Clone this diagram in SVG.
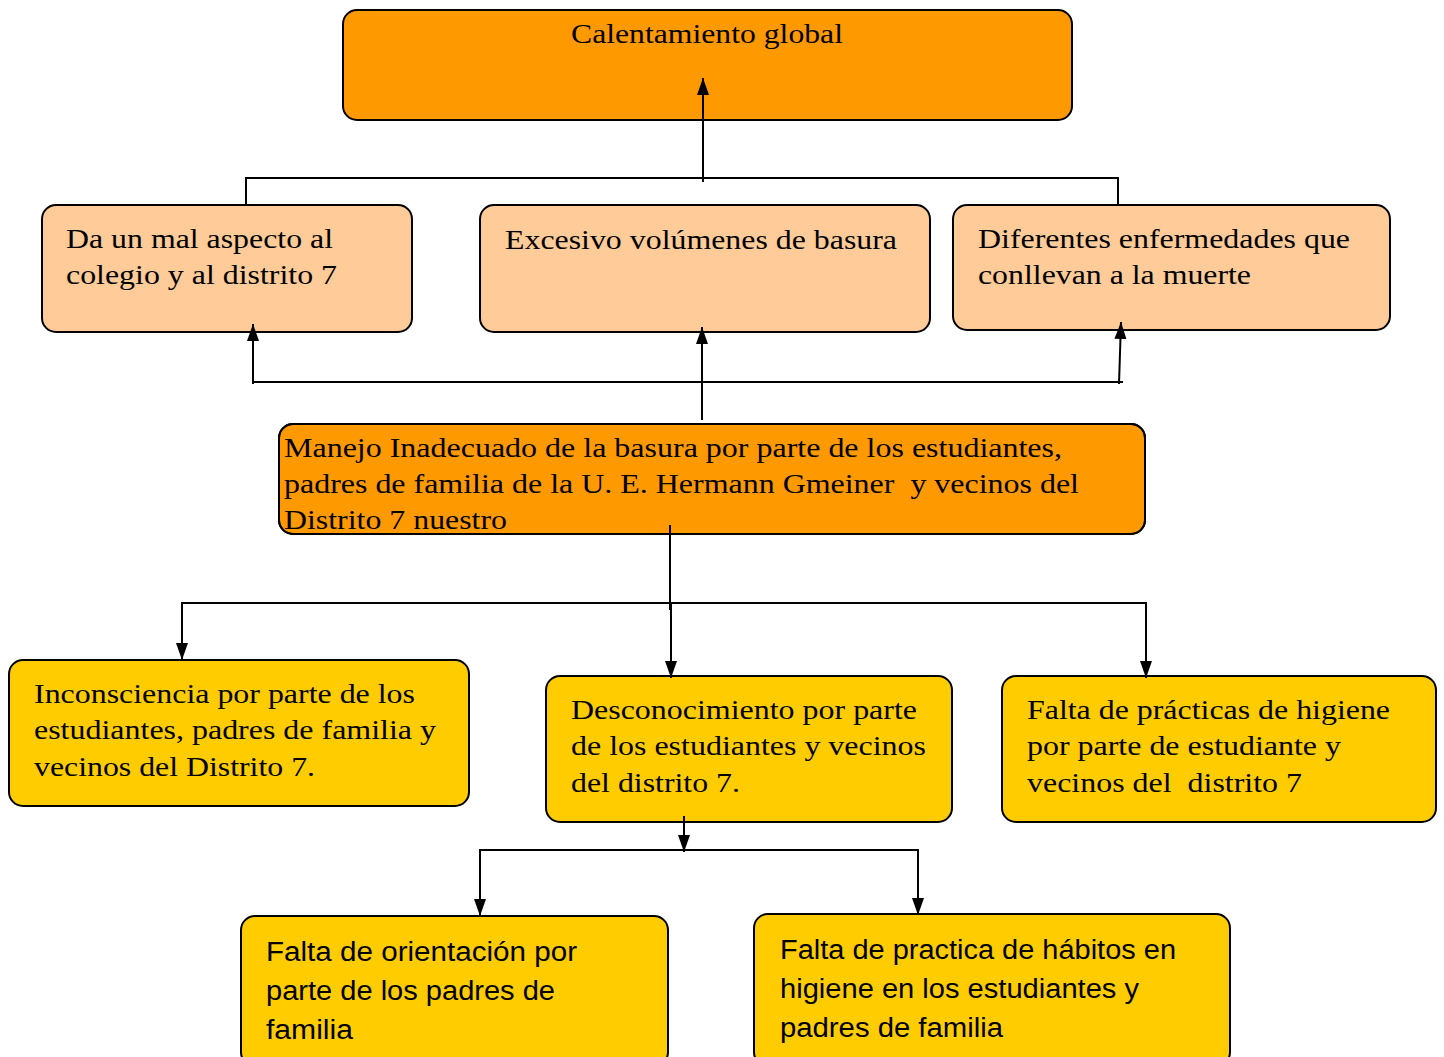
<svg xmlns="http://www.w3.org/2000/svg" width="1444" height="1057" viewBox="0 0 1444 1057">
<style>
.box{stroke:#000;stroke-width:2}
.o{fill:#FF9900}
.p{fill:#FFCC99}
.y{fill:#FFCC00}
.t{font-family:"Liberation Serif","Times New Roman","DejaVu Serif Condensed",serif;font-size:28px;fill:#000}
.s{font-family:"Liberation Sans",Arial,sans-serif;font-size:27px;fill:#000}
.c{fill:none;stroke:#000;stroke-width:2}
</style>
<defs>
<marker id="ah" markerUnits="userSpaceOnUse" markerWidth="18" markerHeight="14" refX="17" refY="7" orient="auto">
<path d="M0,1 L17,7 L0,13 Z" fill="#000"/>
</marker>
<clipPath id="clipM"><rect x="279" y="424" width="866" height="110" rx="14"/></clipPath>
</defs>
<rect width="1444" height="1057" fill="#fff"/>
<g id="n-calentamiento">
<rect class="box o" x="343" y="10" width="729" height="110" rx="14"/>
<text class="t" x="571" y="43" textLength="272" lengthAdjust="spacingAndGlyphs">Calentamiento global</text>
</g>
<g id="n-aspecto">
<rect class="box p" x="42" y="205" width="370" height="127" rx="14"/>
<text class="t" x="66" y="248" textLength="267" lengthAdjust="spacingAndGlyphs">Da un mal aspecto al</text>
<text class="t" x="66" y="284" textLength="271" lengthAdjust="spacingAndGlyphs">colegio y al distrito 7</text>
</g>
<g id="n-basura">
<rect class="box p" x="480" y="205" width="450" height="127" rx="14"/>
<text class="t" x="505" y="249" textLength="392" lengthAdjust="spacingAndGlyphs">Excesivo volúmenes de basura</text>
</g>
<g id="n-enfermedades">
<rect class="box p" x="953" y="205" width="437" height="125" rx="14"/>
<text class="t" x="978" y="248" textLength="372" lengthAdjust="spacingAndGlyphs">Diferentes enfermedades que</text>
<text class="t" x="978" y="284" textLength="273" lengthAdjust="spacingAndGlyphs">conllevan a la muerte</text>
</g>
<g id="n-manejo">
<rect class="box o" x="279" y="424" width="866" height="110" rx="14"/>
<g clip-path="url(#clipM)">
<text class="t" x="284" y="457" textLength="778" lengthAdjust="spacingAndGlyphs">Manejo Inadecuado de la basura por parte de los estudiantes,</text>
<text class="t" x="284" y="493" textLength="795" lengthAdjust="spacingAndGlyphs" xml:space="preserve">padres de familia de la U. E. Hermann Gmeiner  y vecinos del</text>
<text class="t" x="284" y="529" textLength="223" lengthAdjust="spacingAndGlyphs">Distrito 7 nuestro</text>
</g>
<rect x="279" y="424" width="866" height="110" rx="14" fill="none" stroke="#000" stroke-width="2"/>
</g>
<g id="n-inconsciencia">
<rect class="box y" x="9" y="660" width="460" height="146" rx="14"/>
<text class="t" x="34" y="703" textLength="381" lengthAdjust="spacingAndGlyphs">Inconsciencia por parte de los</text>
<text class="t" x="34" y="739" textLength="402" lengthAdjust="spacingAndGlyphs">estudiantes, padres de familia y</text>
<text class="t" x="34" y="776" textLength="281" lengthAdjust="spacingAndGlyphs">vecinos del Distrito 7.</text>
</g>
<g id="n-desconocimiento">
<rect class="box y" x="546" y="676" width="406" height="146" rx="14"/>
<text class="t" x="571" y="719" textLength="346" lengthAdjust="spacingAndGlyphs">Desconocimiento por parte</text>
<text class="t" x="571" y="755" textLength="355" lengthAdjust="spacingAndGlyphs">de los estudiantes y vecinos</text>
<text class="t" x="571" y="792" textLength="169" lengthAdjust="spacingAndGlyphs">del distrito 7.</text>
</g>
<g id="n-higiene">
<rect class="box y" x="1002" y="676" width="434" height="146" rx="14"/>
<text class="t" x="1027" y="719" textLength="363" lengthAdjust="spacingAndGlyphs">Falta de prácticas de higiene</text>
<text class="t" x="1027" y="755" textLength="314" lengthAdjust="spacingAndGlyphs">por parte de estudiante y</text>
<text class="t" x="1027" y="792" textLength="275" lengthAdjust="spacingAndGlyphs" xml:space="preserve">vecinos del  distrito 7</text>
</g>
<g id="n-orientacion">
<rect class="box y" x="241" y="916" width="427" height="150" rx="14"/>
<text class="s" x="266" y="961" textLength="311" lengthAdjust="spacingAndGlyphs">Falta de orientación por</text>
<text class="s" x="266" y="1000" textLength="289" lengthAdjust="spacingAndGlyphs">parte de los padres de</text>
<text class="s" x="266" y="1039" textLength="87" lengthAdjust="spacingAndGlyphs">familia</text>
</g>
<g id="n-habitos">
<rect class="box y" x="754" y="914" width="476" height="152" rx="14"/>
<text class="s" x="780" y="959" textLength="396" lengthAdjust="spacingAndGlyphs">Falta de practica de hábitos en</text>
<text class="s" x="780" y="998" textLength="359" lengthAdjust="spacingAndGlyphs">higiene en los estudiantes y</text>
<text class="s" x="780" y="1037" textLength="223" lengthAdjust="spacingAndGlyphs">padres de familia</text>
</g>
<g id="connectors">
<line class="c" x1="703" y1="182" x2="703" y2="78" marker-end="url(#ah)"/>
<polyline class="c" points="246,205 246,178 1118,178 1118,205"/>
<line class="c" x1="253" y1="382" x2="1123" y2="382"/>
<line class="c" x1="253" y1="384" x2="253" y2="324" marker-end="url(#ah)"/>
<line class="c" x1="702" y1="420" x2="702" y2="327" marker-end="url(#ah)"/>
<line class="c" x1="1119" y1="384" x2="1121" y2="322" marker-end="url(#ah)"/>
<line class="c" x1="670" y1="525" x2="670" y2="610"/>
<polyline class="c" points="182,603 1146,603"/>
<line class="c" x1="182" y1="602" x2="182" y2="660" marker-end="url(#ah)"/>
<line class="c" x1="671" y1="603" x2="671" y2="678" marker-end="url(#ah)"/>
<line class="c" x1="1146" y1="602" x2="1146" y2="678" marker-end="url(#ah)"/>
<line class="c" x1="684" y1="816" x2="684" y2="852" marker-end="url(#ah)"/>
<line class="c" x1="480" y1="850" x2="918" y2="850"/>
<line class="c" x1="480" y1="849" x2="480" y2="916" marker-end="url(#ah)"/>
<line class="c" x1="918" y1="849" x2="918" y2="915" marker-end="url(#ah)"/>
</g>
</svg>
